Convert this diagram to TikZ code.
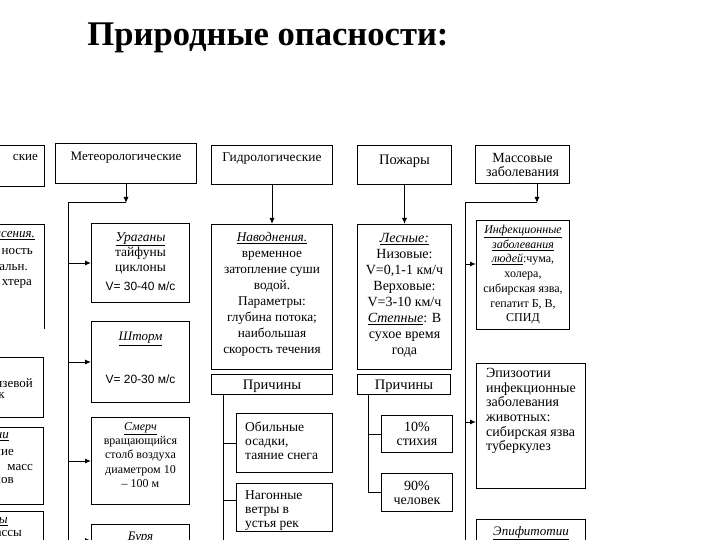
\documentclass[tikz,border=0pt]{standalone}
\usepackage{fontspec}
\setmainfont{Liberation Serif}
\newfontfamily\sansfnt{Liberation Sans}
\usetikzlibrary{positioning, arrows.meta}

\tikzset{
  box/.style={draw, line width=1pt, rectangle, inner sep=0pt, anchor=north west},
  txt/.style={inner sep=0pt, align=center, anchor=north, font=\fontsize{13}{16}\selectfont},
  txt tight/.style={txt, font=\fontsize{12}{14.5}\selectfont},
  ltxt/.style={inner sep=0pt, align=left, anchor=north west, font=\fontsize{13.5}{14}\selectfont},
  cut/.style={inner sep=0pt, anchor=east, font=\fontsize{13}{14.5}\selectfont},
  wire/.style={line width=1pt},
  arr/.style={line width=1pt, -{Latex[length=6pt,width=5pt]}},
}
\newcommand{\hl}[1]{\underline{\textit{#1}}}

\begin{document}
\begin{tikzpicture}[x=1pt, y=-1pt]
  \useasboundingbox (0,0) rectangle (720,540);
  \clip (0,0) rectangle (720,540);

  \node[font=\bfseries\fontsize{34.6}{40}\selectfont] (title) at (268,38) {Природные опасности:};

  % left column, cut by the page edge
  \node[box, minimum width=54pt, minimum height=41pt] (geo) at (-10,145) {};
  \node[cut] at (38,158) {ские};
  \node[box, draw=none, minimum width=53pt, minimum height=103pt] (zem) at (-10,225) {};
  \draw[wire] (zem.north west) -| (zem.south east);
  \node[cut] at (35,236) {\hl{ясения.}};
  \node[cut] at (33,252) {ность};
  \node[cut] at (28,268) {альн.};
  \node[cut] at (32,284) {хтера};
  \node[box, minimum width=53pt, minimum height=60pt] (sel) at (-10,357) {};
  \node[cut] at (33,383) {язевой};
  \node[cut] at (5,396) {к};
  \node[box, minimum width=53pt, minimum height=77pt] (opl) at (-10,427) {};
  \node[cut] at (9,437) {\hl{ни}};
  \node[cut] at (14,452) {ние};
  \node[cut] at (33,467) {масс};
  \node[cut] at (14,480) {нов};
  \node[box, minimum width=53pt, minimum height=40pt] (obv) at (-10,511) {};
  \node[cut] at (8,522) {\hl{ы}};
  \node[cut] at (22,533) {ассы};

  % meteorological
  \node[box, minimum width=141pt, minimum height=40pt] (met) at (55,143) {};
  \node[txt, below=9pt of met.north] {Метеорологические};
  \node[box, minimum width=98pt, minimum height=79pt] (urag) at (91,223) {};
  \node[txt, font=\fontsize{13.5}{15}\selectfont, below=9pt of urag.north] {\hl{Ураганы}\\ тайфуны\\ циклоны\\[4pt] {\sansfnt\fontsize{12}{15}\selectfont V= 30-40 м/с}};
  \node[box, minimum width=98pt, minimum height=81pt] (shtorm) at (91,321) {};
  \node[txt, below=11pt of shtorm.north] {\hl{Шторм}\\[27pt] {\sansfnt\fontsize{12}{15}\selectfont V= 20-30 м/с}};
  \node[box, minimum width=98pt, minimum height=87pt] (smerch) at (91,417) {};
  \node[txt tight, font=\fontsize{12}{14.3}\selectfont, below=5pt of smerch.north] {\hl{Смерч}\\ вращающийся\\ столб воздуха\\ диаметром 10\\ – 100 м};
  \node[box, minimum width=98pt, minimum height=32pt] (burya) at (91,524) {};
  \node[txt, below=8pt of burya.north] {\hl{Буря}};

  \coordinate (mtop) at (68,203);
  \coordinate (mbus) at (68,545);
  \draw[arr] (met) -- (met |- mtop);
  \draw[wire] (met |- mtop) -- (mtop) -- (mbus);
  \foreach \n in {urag, shtorm, smerch, burya}
    \draw[arr] (mtop |- \n) -- (\n);

  % hydrological
  \node[box, minimum width=121pt, minimum height=39pt] (hyd) at (211,145) {};
  \node[txt, font=\fontsize{13.4}{16}\selectfont, below=8pt of hyd.north] {Гидрологические};
  \node[box, minimum width=121pt, minimum height=145pt] (nav) at (211,224) {};
  \node[txt, font=\fontsize{13.3}{16}\selectfont, below=8pt of nav.north] {\hl{Наводнения.}\\ временное\\ затопление суши\\ водой.\\ Параметры:\\ глубина потока;\\ наибольшая\\ скорость течения};
  \node[box, minimum width=121pt, minimum height=20pt] (prich1) at (211,374) {};
  \node[txt, font=\fontsize{14.5}{16}\selectfont, anchor=center] at (272,386) {Причины};
  \node[box, minimum width=96pt, minimum height=59pt] (obl) at (236,413) {};
  \node[ltxt, below right=9pt and 9pt of obl.north west] {Обильные\\ осадки,\\ таяние снега};
  \node[box, minimum width=96pt, minimum height=48pt] (nag) at (236,483) {};
  \node[ltxt, below right=7pt and 9pt of nag.north west] {Нагонные\\ ветры в\\ устья рек};

  \coordinate (hbus) at (223,545);
  \draw[arr] (hyd) -- (nav);
  \draw[wire] (prich1.south -| hbus) -- (hbus);
  \draw[wire] (hbus |- obl) -- (obl);
  \draw[wire] ([yshift=7pt]nag.west) -- ++(-13,0);

  % fires
  \node[box, minimum width=94pt, minimum height=39pt] (pozh) at (357,145) {};
  \node[txt, font=\fontsize{14.5}{16}\selectfont, below=10pt of pozh.north] {Пожары};
  \node[box, minimum width=94pt, minimum height=145pt] (les) at (357,224) {};
  \node[txt, font=\fontsize{14}{16}\selectfont, below=9pt of les.north] {\hl{Лесные:}\\ Низовые:\\ V=0,1-1 км/ч\\ Верховые:\\ V=3-10 км/ч\\ \hl{Степные}: В\\ сухое время\\ года};
  \node[box, minimum width=93pt, minimum height=20pt] (prich2) at (357,374) {};
  \node[txt, font=\fontsize{14.5}{16}\selectfont, anchor=center] at (404,386) {Причины};
  \node[box, minimum width=71pt, minimum height=37pt] (s10) at (381,415) {};
  \node[txt, font=\fontsize{14}{13.5}\selectfont, below=7pt of s10.north] {10\%\\ стихия};
  \node[box, minimum width=71pt, minimum height=38pt] (s90) at (381,473) {};
  \node[txt, font=\fontsize{14}{13.5}\selectfont, below=8pt of s90.north] {90\%\\ человек};

  \coordinate (fbus) at (368,400);
  \draw[arr] (pozh) -- (les);
  \draw[wire] (prich2.south -| fbus) |- (s90);
  \draw[wire] (fbus |- s10) -- (s10);

  % mass diseases
  \node[box, minimum width=94pt, minimum height=38pt] (mass) at (475,145) {};
  \node[txt, font=\fontsize{14}{14}\selectfont, below=8pt of mass.north] {Массовые\\ заболевания};
  \node[box, minimum width=93pt, minimum height=109pt] (infek) at (476,220) {};
  \node[txt tight, font=\fontsize{12}{14.7}\selectfont, below=5pt of infek.north] {\hl{Инфекционные}\\ \hl{заболевания}\\ \hl{людей}:чума,\\ холера,\\ сибирская язва,\\ гепатит Б, В,\\ СПИД};
  \node[box, minimum width=109pt, minimum height=125pt] (epiz) at (476,363) {};
  \node[ltxt, font=\fontsize{14}{14.7}\selectfont, below right=5pt and 10pt of epiz.north west] {Эпизоотии\\ инфекционные\\ заболевания\\ животных:\\ сибирская язва\\ туберкулез};
  \node[box, minimum width=109pt, minimum height=40pt] (epif) at (476,519) {};
  \node[txt, below=7pt of epif.north] {\hl{Эпифитотии}};

  \coordinate (mj2) at (537,203);
  \coordinate (dtop) at (465,203);
  \coordinate (dbus) at (465,545);
  \draw[arr] (mass.south -| mj2) -- (mj2);
  \draw[wire] (mj2) -- (dtop) -- (dbus);
  \draw[arr] ([xshift=-11pt, yshift=11pt]infek.west) -- ([yshift=11pt]infek.west);
  \draw[arr] ([xshift=-11pt, yshift=4pt]epiz.west) -- ([yshift=4pt]epiz.west);
\end{tikzpicture}
\end{document}
